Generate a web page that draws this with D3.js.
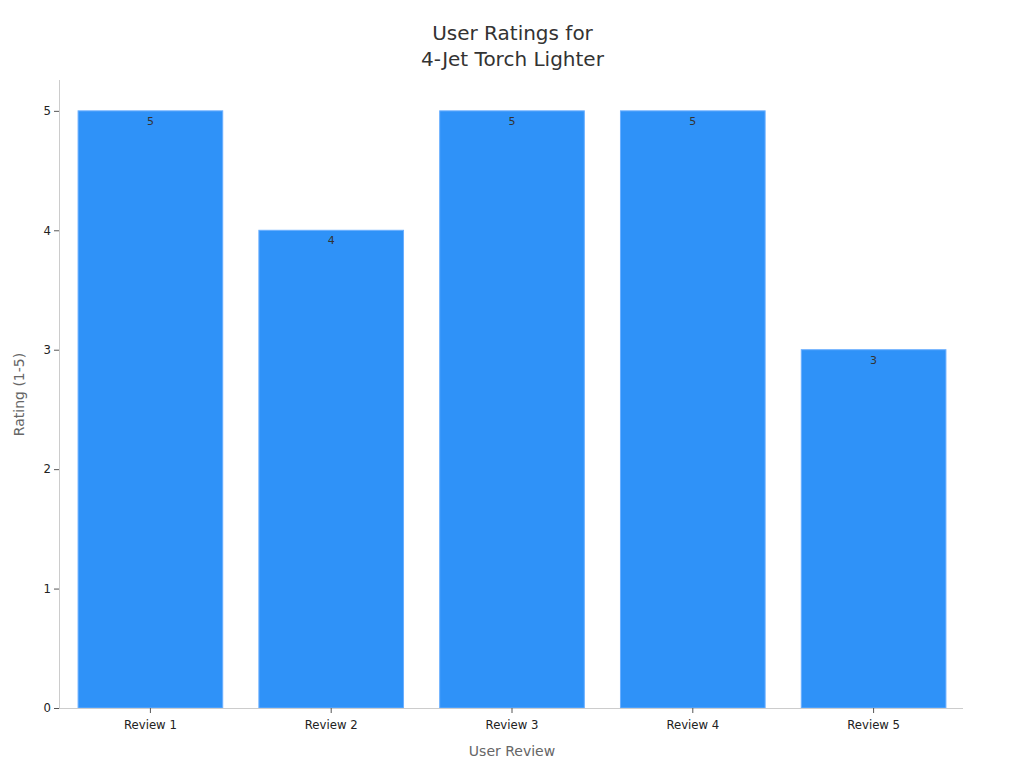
<!DOCTYPE html>
<html><head><meta charset="utf-8">
<script src="https://cdn.jsdelivr.net/npm/d3@7/dist/d3.min.js"></script>
<style>body{margin:0;background:#fff;font-family:"DejaVu Sans",sans-serif;}</style>
</head><body><svg id="c" width="1024" height="768"></svg>
<script>
const categories = ["Review 1","Review 2","Review 3","Review 4","Review 5"];
const ratings = [5,4,5,5,3];
const yTicks = [0,1,2,3,4,5];

const svg = d3.select("#c");
const m = {l:59, r:963, t:81, b:708};
const x = d3.scaleBand().domain(categories).range([m.l+1,m.r+1]).paddingInner(0.2).paddingOuter(0.1);
const y = d3.scaleLinear().domain([0,5.25]).range([m.b,m.t]);

svg.append("g").selectAll("rect").data(ratings).join("rect")
  .attr("x",(d,i)=>x(categories[i])).attr("width",x.bandwidth())
  .attr("y",d=>y(d)).attr("height",d=>y(0)-y(d))
  .attr("fill","#2f92f8").attr("stroke","#6aafff").attr("stroke-width",1);

svg.append("g").selectAll("text").data(ratings).join("text")
  .attr("x",(d,i)=>x(categories[i])+x.bandwidth()/2).attr("y",d=>y(d)+14)
  .attr("text-anchor","middle").attr("font-size",11).attr("fill","#333").text(d=>d);

const xa = svg.append("g").attr("transform",`translate(0,${m.b})`).call(d3.axisBottom(x).tickSize(5).tickSizeOuter(0));
const ya = svg.append("g").attr("transform",`translate(${m.l},0)`).call(d3.axisLeft(y).tickValues(yTicks).tickFormat(d3.format("d")).tickSize(5).tickSizeOuter(0));
[xa,ya].forEach(a=>{
  a.select(".domain").attr("stroke","#cccccc");
  a.selectAll(".tick line").attr("stroke","#555");
  a.selectAll(".tick text").attr("fill","#222").attr("font-size",11.7).attr("font-family","DejaVu Sans");
});
xa.selectAll(".tick text").attr("dy","1.15em");
xa.select(".domain").attr("d",`M${m.l},0.5H${m.r}`);
ya.select(".domain").attr("d",`M0.5,${m.t-1}V${m.b}`);

svg.append("text").attr("x",512).attr("y",756).attr("text-anchor","middle")
  .attr("font-size",14).attr("fill","#666").text("User Review");
svg.append("text").attr("transform",`translate(24,${(m.t+m.b)/2}) rotate(-90)`).attr("text-anchor","middle")
  .attr("font-size",14).attr("fill","#666").text("Rating (1-5)");

const t = svg.append("text").attr("text-anchor","middle").attr("font-size",20).attr("fill","#333");
t.append("tspan").attr("x",512.5).attr("y",40).text("User Ratings for");
t.append("tspan").attr("x",512.5).attr("y",66).text("4-Jet Torch Lighter");
</script></body></html>
